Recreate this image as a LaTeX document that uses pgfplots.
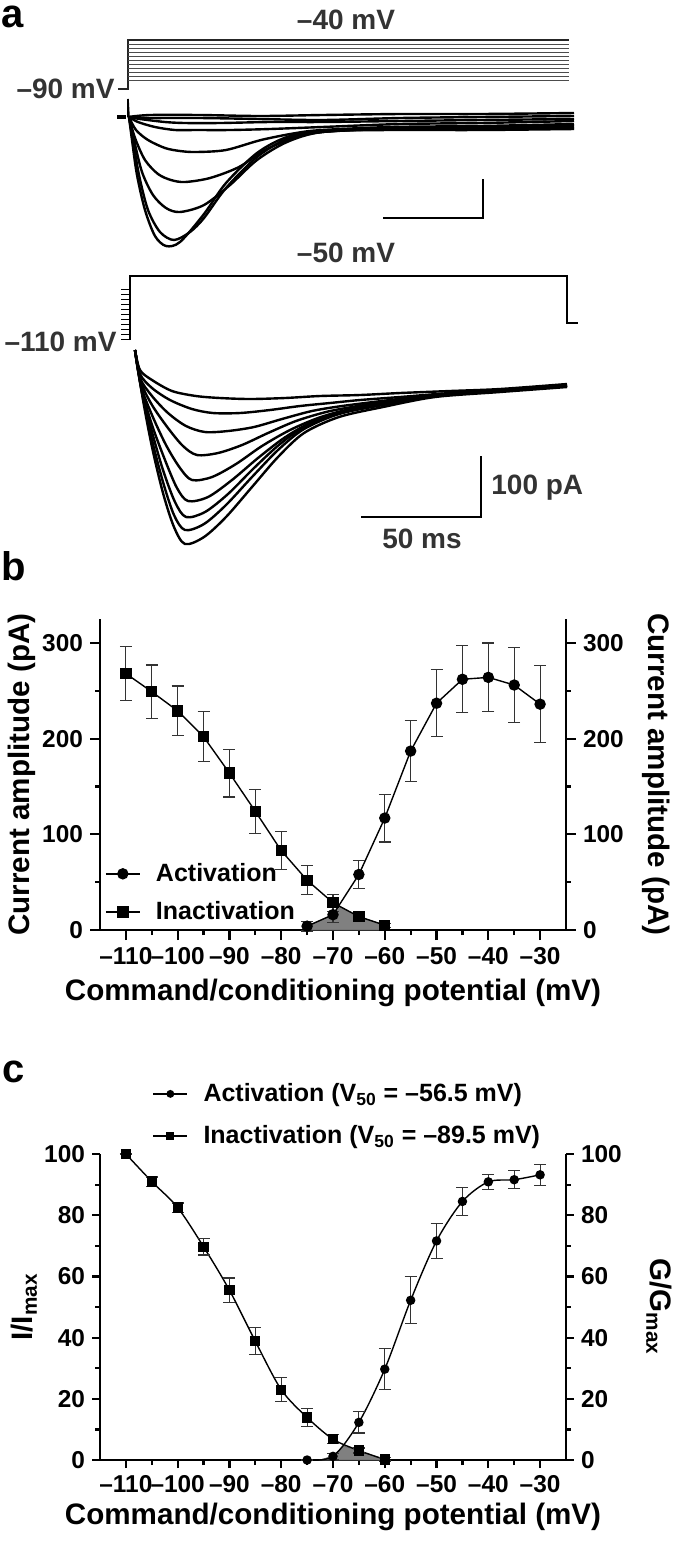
\documentclass[border=0pt]{standalone}
\usepackage{fontspec}
\setmainfont{Liberation Sans}
\usepackage{pgfplots}
\pgfplotsset{compat=1.18}

\pgfplotsset{
  panel/.style={
    scale only axis, width=233pt,
    xmin=-115, xmax=-25,
    tick align=outside,
    axis line style={line width=1.1pt},
    tick style={line width=1.1pt, black},
    major tick length=4.5pt, minor tick length=2.5pt,
    tick label style={font=\fontsize{12.2}{13}\selectfont\bfseries},
    /pgf/number format/assume math mode=true,
    label style={font=\fontsize{14.8}{16}\selectfont\bfseries},
    clip=false,
  },
  bottomaxis/.style={
    axis x line*=bottom, axis y line*=left,
    xtick={-110,-100,-90,-80,-70,-60,-50,-40,-30},
    xticklabels={–110,–100,–90,–80,–70,–60,–50,–40,–30},
    minor xtick={-105,-95,-85,-75,-65,-55,-45,-35},
  },
  rightaxis/.style={
    axis x line=none, axis y line*=right,
  },
  dat/.style={black, line width=0.7pt,
    error bars/y dir=both, error bars/y explicit,
    error bars/error bar style={line width=0.6pt, black!80},
    error bars/error mark options={rotate=90, mark size=3pt, line width=0.6pt, black!80}},
  gaplegend/.style={legend image code/.code={
    \draw[mark repeat=2, mark phase=2, ##1] plot coordinates {(0cm,0cm)(0.3cm,0cm)(0.6cm,0cm)};
    \path (0.8cm,0cm);}},
}
\newcommand{\ann}{\fontsize{14}{16}\selectfont\bfseries\color{black!80}}

\begin{document}
\begin{tikzpicture}
\path[use as bounding box] (0,0) rectangle (338.5pt,-771.5pt);

% ---------- panel a: protocols and current traces (pixel units)
\begin{axis}[at={(0pt,0pt)}, anchor=north west, x=0.5pt, y=0.5pt,
  xmin=0, xmax=677, ymin=0, ymax=630, y dir=reverse,
  axis lines=none, clip=false,
  every axis plot/.append style={no marks}]
% upper protocol
\addplot[line width=0.6pt, black!85] coordinates {(118,89)(128,89)(128,40)(569,40)};
\addplot[line width=0.45pt, black!70] coordinates {(128,44)(569,44)};
\addplot[line width=0.45pt, black!70] coordinates {(128,48)(569,48)};
\addplot[line width=0.45pt, black!70] coordinates {(128,52)(569,52)};
\addplot[line width=0.45pt, black!70] coordinates {(128,56)(569,56)};
\addplot[line width=0.45pt, black!70] coordinates {(128,60)(569,60)};
\addplot[line width=0.45pt, black!70] coordinates {(128,64)(569,64)};
\addplot[line width=0.45pt, black!70] coordinates {(128,68)(569,68)};
\addplot[line width=0.45pt, black!70] coordinates {(128,72)(569,72)};
\addplot[line width=0.45pt, black!70] coordinates {(128,76)(569,76)};
\addplot[line width=0.45pt, black!70] coordinates {(128,80)(569,80)};
% upper traces
\addplot[black, line width=1.8pt] coordinates {(117,117)(126,117)};
\addplot[black, line width=0.8pt] coordinates {(128,117)(128,99)(129,117)};
\addplot[black, line width=1.2pt, smooth] coordinates {(128,117)(150,115)(200,115)(260,116)(322,115)(400,114)(480,114)(574,113)};
\addplot[black, line width=1.2pt, smooth] coordinates {(129,117)(150,118)(200,118)(260,119)(322,120)(400,118)(480,117)(574,116)};
\addplot[black, line width=1.2pt, smooth] coordinates {(129,117)(140,119)(165,122)(185,123)(220,123)(270,122)(322,122)(400,121)(480,120)(574,119)};
\addplot[black, line width=1.2pt, smooth] coordinates {(129,117)(138,122)(155,127)(175,130)(195,130)(230,130)(270,129)(322,127)(400,124)(480,123)(574,121)};
\addplot[black, line width=1.2pt, smooth] coordinates {(129,117)(136,130)(148,140)(165,148)(180,151)(196,152)(226,150)(261,140)(296,133)(322,130)(391,127)(480,126)(574,124)};
\addplot[black, line width=1.2pt, smooth] coordinates {(129,117)(135,138)(145,160)(158,174)(171,180)(185,182)(210,178)(239,167)(265,150)(296,137)(322,132)(391,128)(480,127)(574,125)};
\addplot[black, line width=1.2pt, smooth] coordinates {(129,117)(134,140)(142,172)(153,195)(166,208)(180,212)(204,205)(230,185)(257,160)(287,142)(322,132)(391,129)(480,128)(574,127)};
\addplot[black, line width=1.2pt, smooth] coordinates {(129,117)(133,140)(139,175)(148,210)(160,232)(174,240)(190,232)(204,218)(226,188)(257,157)(287,139)(322,132)(391,129)(480,129)(574,128)};
\addplot[black, line width=1.2pt, smooth] coordinates {(129,117)(132,140)(137,175)(145,210)(155,236)(166,246)(180,242)(204,214)(226,183)(257,153)(287,137)(322,131)(391,130)(480,130)(574,129)};
% upper scale bar
\addplot[black, line width=1.1pt] coordinates {(383,218)(483,218)(483,179)};
% lower protocol
\addplot[line width=0.7pt, black] coordinates {(130,340)(130,276)(567,276)(567,323)(578,323)};
\addplot[line width=0.5pt, black] coordinates {(121,289)(130,289)};
\addplot[line width=0.5pt, black] coordinates {(121,294)(130,294)};
\addplot[line width=0.5pt, black] coordinates {(121,299)(130,299)};
\addplot[line width=0.5pt, black] coordinates {(121,304)(130,304)};
\addplot[line width=0.5pt, black] coordinates {(121,309)(130,309)};
\addplot[line width=0.5pt, black] coordinates {(121,314)(130,314)};
\addplot[line width=0.5pt, black] coordinates {(121,319)(130,319)};
\addplot[line width=0.5pt, black] coordinates {(121,324)(130,324)};
\addplot[line width=0.5pt, black] coordinates {(121,329)(130,329)};
\addplot[line width=0.5pt, black] coordinates {(121,334)(130,334)};
\addplot[line width=0.5pt, black] coordinates {(121,339)(130,339)};
% lower traces
\addplot[black, line width=1.2pt, smooth] coordinates {(135,350)(140,370)(152,380)(172,391)(196,396)(220,398)(250,399)(285,398)(320,396)(360,395)(400,393)(450,391)(500,389)(567,384)};
\addplot[black, line width=1.2pt, smooth] coordinates {(135,350)(140,374)(152,388)(170,400)(192,409)(213,413)(240,413)(270,410)(300,406)(330,403)(360,400)(400,397)(450,393)(500,390)(567,385)};
\addplot[black, line width=1.2pt, smooth] coordinates {(135,350)(140,378)(152,396)(168,413)(186,426)(205,432)(228,431)(254,427)(282,419)(312,411)(342,406)(390,400)(435,395)(500,390)(567,385)};
\addplot[black, line width=1.2pt, smooth] coordinates {(135,350)(141,382)(152,405)(168,428)(183,446)(197,455)(218,453)(242,445)(268,433)(296,421)(326,412)(352,407)(390,401)(435,395)(500,390)(567,386)};
\addplot[black, line width=1.2pt, smooth] coordinates {(135,350)(141,386)(152,415)(166,445)(180,468)(192,480)(212,477)(236,464)(262,446)(290,430)(318,418)(346,410)(388,402)(435,395)(500,390)(567,386)};
\addplot[black, line width=1.2pt, smooth] coordinates {(135,350)(142,390)(152,425)(165,460)(177,488)(188,501)(208,497)(232,480)(258,458)(284,438)(310,423)(342,412)(385,403)(435,396)(500,391)(567,386)};
\addplot[black, line width=1.2pt, smooth] coordinates {(135,350)(142,393)(152,432)(163,470)(175,502)(186,517)(205,512)(228,494)(254,468)(280,444)(306,426)(340,413)(383,404)(435,396)(500,391)(567,386)};
\addplot[black, line width=1.2pt, smooth] coordinates {(135,350)(143,397)(152,440)(163,482)(174,515)(185,530)(204,524)(226,505)(252,477)(278,450)(304,429)(339,414)(383,405)(435,396)(500,391)(567,386)};
\addplot[black, line width=1.2pt, smooth] coordinates {(135,350)(143,400)(152,447)(163,493)(174,527)(185,544)(204,537)(226,517)(252,487)(278,457)(304,433)(339,417)(383,407)(435,397)(500,392)(567,387)};
% lower scale bar
\addplot[black, line width=1.1pt] coordinates {(361,517)(481,517)(481,456)};
% annotations
\node[font=\ann] at (axis cs:346,20) {–40 mV};
\node[font=\ann, anchor=east, inner sep=1pt] at (axis cs:117,89) {–90 mV};
\node[font=\ann] at (axis cs:346,253) {–50 mV};
\node[font=\ann, anchor=east, inner sep=1pt] at (axis cs:119,342) {–110 mV};
\node[font=\ann, anchor=west, inner sep=1pt] at (axis cs:489,488) {100 pA};
\node[font=\ann] at (axis cs:422,539) {50 ms};
\end{axis}

\node[font=\fontsize{20}{22}\selectfont\bfseries, anchor=base west, inner sep=0pt] at (0.5pt,-13.5pt) {a};
\node[font=\fontsize{20}{22}\selectfont\bfseries, anchor=base west, inner sep=0pt] at (0.5pt,-290pt) {b};
\node[font=\fontsize{20}{22}\selectfont\bfseries, anchor=base west, inner sep=0pt] at (1pt,-541pt) {c};

% ---------- panel b
\begin{axis}[panel, bottomaxis, gaplegend, at={(50pt,-465pt)}, anchor=south west,
  height=155.5pt, ymin=0, ymax=325,
  major tick length=5pt,
  ytick={0,100,200,300}, minor ytick={50,150,250},
  xlabel={Command/conditioning potential (mV)},
  ylabel={Current amplitude (pA)},
  xlabel style={at={(rel axis cs:0.5,0)}, anchor=center, yshift=-31.5pt},
  ylabel style={at={(axis description cs:-0.167,0.5)}, anchor=center},
  legend style={at={(0.01,0.01)}, anchor=south west, draw=none, fill=none,
    inner sep=0pt, row sep=4.5pt, font=\fontsize{12.5}{13}\selectfont\bfseries},
  legend cell align=left]
\addplot[fill=black!50, draw=black!60, forget plot] coordinates {(-75,4)(-70,16)(-68.9,25)(-65,14)(-60,5)} \closedcycle;
\addplot[dat, mark=*, mark size=2.5pt, mark options={solid, fill=black}] coordinates {
  (-75,4) +- (0,5)
  (-70,16) +- (0,8)
  (-65,58) +- (0,15)
  (-60,117) +- (0,25)
  (-55,187) +- (0,32)
  (-50,237) +- (0,35)
  (-45,262) +- (0,35)
  (-40,264) +- (0,36)
  (-35,256) +- (0,39)
  (-30,236) +- (0,40)
};
\addlegendentry{Activation}
\addplot[dat, mark=square*, mark size=2.5pt, mark options={solid, fill=black}] coordinates {
  (-110,268) +- (0,28)
  (-105,249) +- (0,28)
  (-100,229) +- (0,26)
  (-95,202) +- (0,26)
  (-90,164) +- (0,25)
  (-85,124) +- (0,23)
  (-80,83) +- (0,20)
  (-75,52) +- (0,15)
  (-70,28.5) +- (0,9)
  (-65,14) +- (0,2)
  (-60,5) +- (0,2)
};
\addlegendentry{Inactivation}
\end{axis}
\begin{axis}[panel, rightaxis, at={(50pt,-465pt)}, anchor=south west,
  height=155.5pt, ymin=0, ymax=325,
  major tick length=5pt,
  ytick={0,100,200,300}, minor ytick={50,150,250},
  ylabel={Current amplitude (pA)},
  ylabel style={at={(axis description cs:1.193,0.5)}, anchor=center, rotate=180}]
\end{axis}

% ---------- panel c
\begin{axis}[panel, bottomaxis, gaplegend, at={(50pt,-730pt)}, anchor=south west,
  height=153pt, ymin=0, ymax=100,
  major tick length=4pt,
  ytick={0,20,40,60,80,100}, minor ytick={10,30,50,70,90},
  xlabel={Command/conditioning potential (mV)},
  ylabel={I/I\textsubscript{max}},
  xlabel style={at={(rel axis cs:0.5,0)}, anchor=center, yshift=-28.5pt},
  ylabel style={at={(axis description cs:-0.163,0.5)}, anchor=center},
  legend style={at={(0.112,1.01)}, anchor=south west, draw=none, fill=none,
    inner sep=0pt, row sep=6.5pt, font=\fontsize{12.5}{13}\selectfont\bfseries},
  legend cell align=left]
\addplot[fill=black!50, draw=black!60, forget plot] coordinates {(-72.5,0)(-70,1.3)(-68,4.6)(-65,3.0)(-62,1.2)(-60,0.2)} \closedcycle;
\addplot[black, line width=0.7pt, smooth, forget plot] coordinates {(-75,0)(-70,1.2)(-65,12.3)(-60,29.7)(-55,52.2)(-50,71.6)(-45,84.5)(-40,90.9)(-35,91.6)(-30,93.2)};
\addplot[black, line width=0.7pt, smooth, forget plot] coordinates {(-110,100)(-105,91)(-100,82.5)(-95,69.7)(-90,55.5)(-85,38.8)(-80,23)(-75,13.9)(-70,6.8)(-65,3.1)(-60,0.2)};
\addplot[dat, only marks, mark=*, mark size=2pt, mark options={solid, fill=black}, forget plot] coordinates {
  (-75,0) +- (0,0)
  (-70,1.2) +- (0,1)
  (-65,12.3) +- (0,3.5)
  (-60,29.7) +- (0,6.7)
  (-55,52.2) +- (0,7.7)
  (-50,71.6) +- (0,5.8)
  (-45,84.5) +- (0,4.6)
  (-40,90.9) +- (0,2.4)
  (-35,91.6) +- (0,2.9)
  (-30,93.2) +- (0,3.5)
};
\addlegendimage{black, line width=0.7pt, mark=*, mark size=1.6pt}
\addlegendentry{Activation (V\textsubscript{50} = –56.5 mV)}
\addplot[dat, only marks, mark=square*, mark size=2.2pt, mark options={solid, fill=black}, forget plot] coordinates {
  (-110,100) +- (0,0)
  (-105,91) +- (0,1.5)
  (-100,82.5) +- (0,1.5)
  (-95,69.7) +- (0,2.7)
  (-90,55.5) +- (0,4)
  (-85,38.8) +- (0,4.4)
  (-80,23) +- (0,4)
  (-75,13.9) +- (0,3)
  (-70,6.8) +- (0,1.5)
  (-65,3.1) +- (0,0.8)
  (-60,0.2) +- (0,0.5)
};
\addlegendimage{black, line width=0.7pt, mark=square*, mark size=1.6pt}
\addlegendentry{Inactivation (V\textsubscript{50} = –89.5 mV)}
\end{axis}
\begin{axis}[panel, rightaxis, at={(50pt,-730pt)}, anchor=south west,
  height=153pt, ymin=0, ymax=100,
  major tick length=4pt,
  ytick={0,20,40,60,80,100}, minor ytick={10,30,50,70,90},
  ylabel={G/G\textsubscript{max}},
  ylabel style={at={(axis description cs:1.2,0.5)}, anchor=center, rotate=180}]
\end{axis}
\end{tikzpicture}
\end{document}
